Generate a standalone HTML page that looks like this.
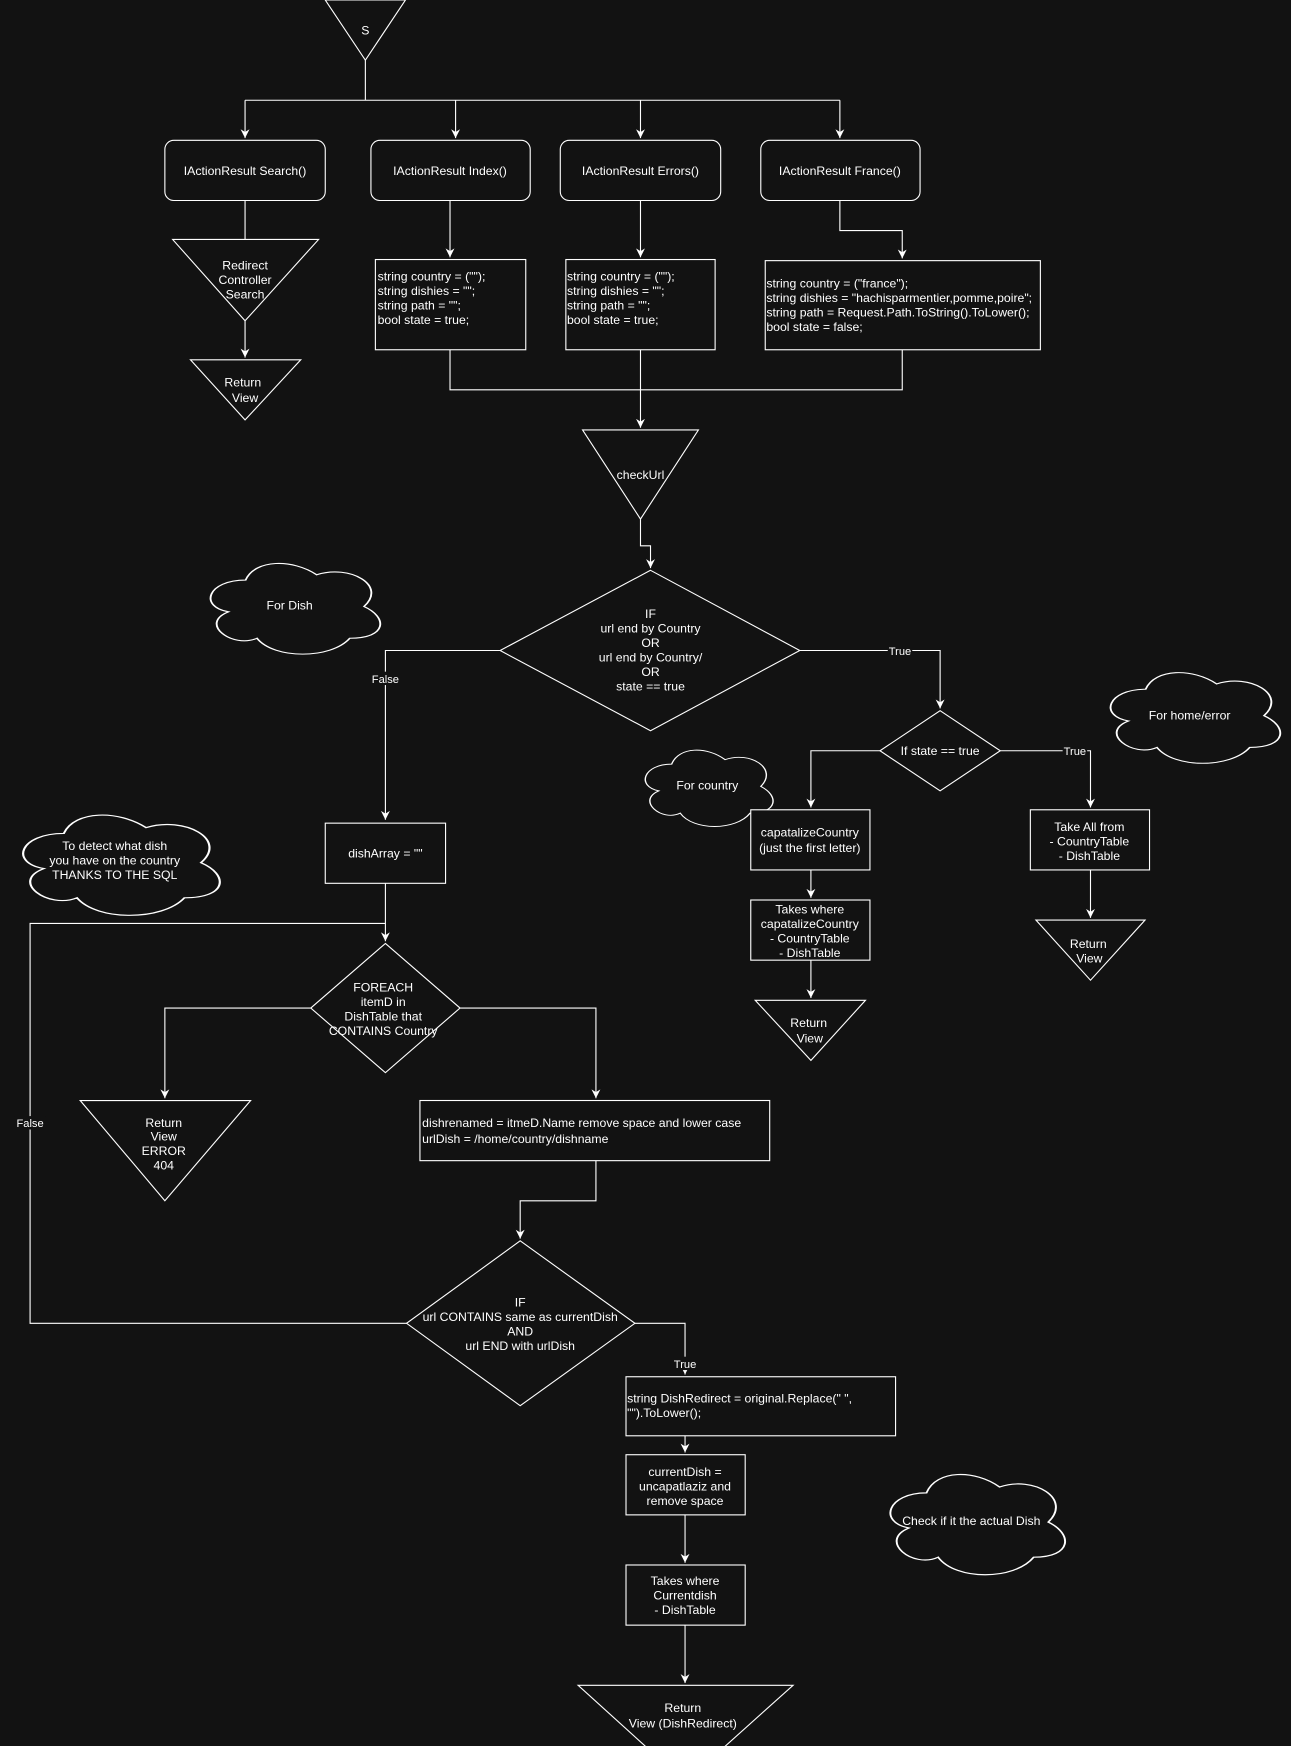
<!DOCTYPE html>
<html><head><meta charset="utf-8"><style>
html,body{margin:0;padding:0;background:#121212;}
svg{display:block;}
text{font-family:"Liberation Sans",Arial,sans-serif;font-size:11px;fill:#fff;}
.s{fill:none;stroke:#fff;stroke-width:1;}
.b{fill:#121212;stroke:#fff;stroke-width:1;}
.c{fill:#121212;stroke:#fff;stroke-width:1;vector-effect:non-scaling-stroke;}
.m{text-anchor:middle;}
.lb{fill:#121212;}
</style></head><body>
<svg width="1291" height="1746" viewBox="0 0 1159 1567.5" xmlns="http://www.w3.org/2000/svg">
<defs>
<marker id="a" markerWidth="10" markerHeight="10" refX="8" refY="4" orient="auto" markerUnits="userSpaceOnUse">
<path d="M0,0 L8,4 L0,8 L2.5,4 Z" fill="#fff"/>
</marker>
<path id="cl" d="M25,25 C5,25 0,50 16,55 C0,66 18,90 31,80 C40,100 70,100 80,80 C100,80 100,60 87.5,50 C100,30 80,10 62.5,20 C50,5 30,5 25,25 Z"/>
</defs>
<rect width="1159" height="1568" fill="#121212"/>

<g class="s">
<path d="M328,54 V90 M220,90 H754"/>
<path d="M220,90 V124" marker-end="url(#a)"/>
<path d="M409,90 V124" marker-end="url(#a)"/>
<path d="M575,90 V124" marker-end="url(#a)"/>
<path d="M754,90 V124" marker-end="url(#a)"/>
<path d="M220,180 V215"/>
<path d="M220,288 V321" marker-end="url(#a)"/>
<path d="M404,180 V231" marker-end="url(#a)"/>
<path d="M575,180 V231" marker-end="url(#a)"/>
<path d="M754,180 V207 H810 V232" marker-end="url(#a)"/>
<path d="M404,314 V350 H810 V314"/>
<path d="M575,314 V384" marker-end="url(#a)"/>
<path d="M575,466 V490 H584 V510" marker-end="url(#a)"/>
<path d="M449,584 H346 V736" marker-end="url(#a)"/>
<path d="M718,584 H844 V636" marker-end="url(#a)"/>
<path d="M790,674 H728 V725" marker-end="url(#a)"/>
<path d="M898,674 H979 V725" marker-end="url(#a)"/>
<path d="M728,781 V806" marker-end="url(#a)"/>
<path d="M728,862 V896" marker-end="url(#a)"/>
<path d="M979,781 V824" marker-end="url(#a)"/>
<path d="M346,793 V845" marker-end="url(#a)"/>
<path d="M346,829 H27 V1188 H365"/>
<path d="M279,905 H148 V986" marker-end="url(#a)"/>
<path d="M413,905 H535 V986" marker-end="url(#a)"/>
<path d="M535,1042 V1078 H467 V1112" marker-end="url(#a)"/>
<path d="M570,1188 H615 V1234" marker-end="url(#a)"/>
<path d="M615,1289 V1304" marker-end="url(#a)"/>
<path d="M615,1360 V1403" marker-end="url(#a)"/>
<path d="M615,1459 V1511" marker-end="url(#a)"/>
</g>

<rect class="lb" x="332" y="603" width="28" height="12"/><text class="m" x="346" y="613" style="font-size:10px">False</text>
<rect class="lb" x="797" y="578" width="22" height="12"/><text class="m" x="808" y="588" style="font-size:10px">True</text>
<rect class="lb" x="954" y="668" width="22" height="12"/><text class="m" x="965" y="678" style="font-size:10px">True</text>
<rect class="lb" x="13" y="1002" width="28" height="12"/><text class="m" x="27" y="1012" style="font-size:10px">False</text>
<rect class="lb" x="604" y="1218" width="22" height="12"/><text class="m" x="615" y="1228" style="font-size:10px">True</text>

<polygon class="b" points="292,0 364,0 328,54"/><text class="m" x="328" y="31">S</text>

<rect class="b" x="148" y="126" width="144" height="54" rx="8"/><text class="m" x="220" y="157">IActionResult Search()</text>
<rect class="b" x="333" y="126" width="143" height="54" rx="8"/><text class="m" x="404" y="157">IActionResult Index()</text>
<rect class="b" x="503" y="126" width="144" height="54" rx="8"/><text class="m" x="575" y="157">IActionResult Errors()</text>
<rect class="b" x="683" y="126" width="143" height="54" rx="8"/><text class="m" x="754" y="157">IActionResult France()</text>

<polygon class="b" points="155,215 286,215 220,288"/>
<text class="m" x="220" y="242">Redirect</text><text class="m" x="220" y="255">Controller</text><text class="m" x="220" y="268">Search</text>
<polygon class="b" points="171,323 270,323 220,377"/>
<text class="m" x="218" y="347">Return</text><text class="m" x="220" y="361">View</text>

<rect class="b" x="337" y="233" width="135" height="81"/>
<text x="339" y="252">string country = ("");</text><text x="339" y="265">string dishies = "";</text><text x="339" y="278">string path = "";</text><text x="339" y="291">bool state = true;</text>
<rect class="b" x="508" y="233" width="134" height="81"/>
<text x="509" y="252">string country = ("");</text><text x="509" y="265">string dishies = "";</text><text x="509" y="278">string path = "";</text><text x="509" y="291">bool state = true;</text>
<rect class="b" x="687" y="234" width="247" height="80"/>
<text x="688" y="258">string country = ("france");</text><text x="688" y="271">string dishies = "hachisparmentier,pomme,poire";</text><text x="688" y="284">string path = Request.Path.ToString().ToLower();</text><text x="688" y="297">bool state = false;</text>

<polygon class="b" points="523,386 627,386 575,466"/><text class="m" x="575" y="430">checkUrl</text>

<polygon class="b" points="584,512 718,584 584,656 449,584"/>
<text class="m" x="584" y="555">IF</text><text class="m" x="584" y="568">url end by Country</text><text class="m" x="584" y="581">OR</text><text class="m" x="584" y="594">url end by Country/</text><text class="m" x="584" y="607">OR</text><text class="m" x="584" y="620">state == true</text>

<polygon class="b" points="844,638 898,674 844,710 790,674"/><text class="m" x="844" y="678">If state == true</text>

<g transform="translate(178,497) scale(1.7,0.95)"><use href="#cl" class="c"/></g>
<text class="m" x="260" y="547">For Dish</text>
<g transform="translate(986,595) scale(1.7,0.95)"><use href="#cl" class="c"/></g>
<text class="m" x="1068" y="646">For home/error</text>
<g transform="translate(571,666) scale(1.28,0.8)"><use href="#cl" class="c"/></g>
<text class="m" x="635" y="709">For country</text>
<g transform="translate(8,722) scale(1.97,1.05)"><use href="#cl" class="c"/></g>
<text class="m" x="103" y="763">To detect what dish</text><text class="m" x="103" y="776">you have on the country</text><text class="m" x="103" y="789">THANKS TO THE SQL</text>
<g transform="translate(788,1314) scale(1.75,1.05)"><use href="#cl" class="c"/></g>
<text class="m" x="872" y="1369">Check if it the actual Dish</text>

<rect class="b" x="674" y="727" width="107" height="54"/>
<text class="m" x="727" y="751">capatalizeCountry</text><text class="m" x="727" y="765">(just the first letter)</text>
<rect class="b" x="674" y="808" width="107" height="54"/>
<text class="m" x="727" y="820">Takes where</text><text class="m" x="727" y="833">capatalizeCountry</text><text class="m" x="727" y="846">- CountryTable</text><text class="m" x="727" y="859">- DishTable</text>
<polygon class="b" points="678,898 777,898 728,952"/>
<text class="m" x="726" y="922">Return</text><text class="m" x="727" y="936">View</text>

<rect class="b" x="925" y="727" width="107" height="54"/>
<text class="m" x="978" y="746">Take All from</text><text class="m" x="978" y="759">- CountryTable</text><text class="m" x="978" y="772">- DishTable</text>
<polygon class="b" points="930,826 1028,826 979,880"/>
<text class="m" x="977" y="851">Return</text><text class="m" x="978" y="864">View</text>

<rect class="b" x="292" y="739" width="108" height="54"/><text class="m" x="346" y="770">dishArray = ""</text>

<polygon class="b" points="346,847 413,905 346,963 279,905"/>
<text class="m" x="344" y="890">FOREACH</text><text class="m" x="344" y="903">itemD in</text><text class="m" x="344" y="916">DishTable that</text><text class="m" x="344" y="929">CONTAINS Country</text>

<polygon class="b" points="72,988 225,988 148,1078"/>
<text class="m" x="147" y="1012">Return</text><text class="m" x="147" y="1024">View</text><text class="m" x="147" y="1037">ERROR</text><text class="m" x="147" y="1050">404</text>

<rect class="b" x="377" y="988" width="314" height="54"/>
<text x="379" y="1012">dishrenamed = itmeD.Name remove space and lower case</text><text x="379" y="1026">urlDish = /home/country/dishname</text>

<polygon class="b" points="467,1114 570,1188 467,1262 365,1188"/>
<text class="m" x="467" y="1173">IF</text><text class="m" x="467" y="1186">url CONTAINS same as currentDish</text><text class="m" x="467" y="1199">AND</text><text class="m" x="467" y="1212">url END with urlDish</text>

<rect class="b" x="562" y="1236" width="242" height="53"/>
<text x="563" y="1259">string DishRedirect = original.Replace(" ",</text><text x="563" y="1272">"").ToLower();</text>
<rect class="b" x="562" y="1306" width="107" height="54"/>
<text class="m" x="615" y="1325">currentDish =</text><text class="m" x="615" y="1338">uncapatlaziz and</text><text class="m" x="615" y="1351">remove space</text>
<rect class="b" x="562" y="1405" width="107" height="54"/>
<text class="m" x="615" y="1423">Takes where</text><text class="m" x="615" y="1436">Currentdish</text><text class="m" x="615" y="1449">- DishTable</text>
<polygon class="b" points="519,1513 712,1513 615,1600"/>
<text class="m" x="613" y="1537">Return</text><text class="m" x="613" y="1551">View (DishRedirect)</text>
</svg>
</body></html>
